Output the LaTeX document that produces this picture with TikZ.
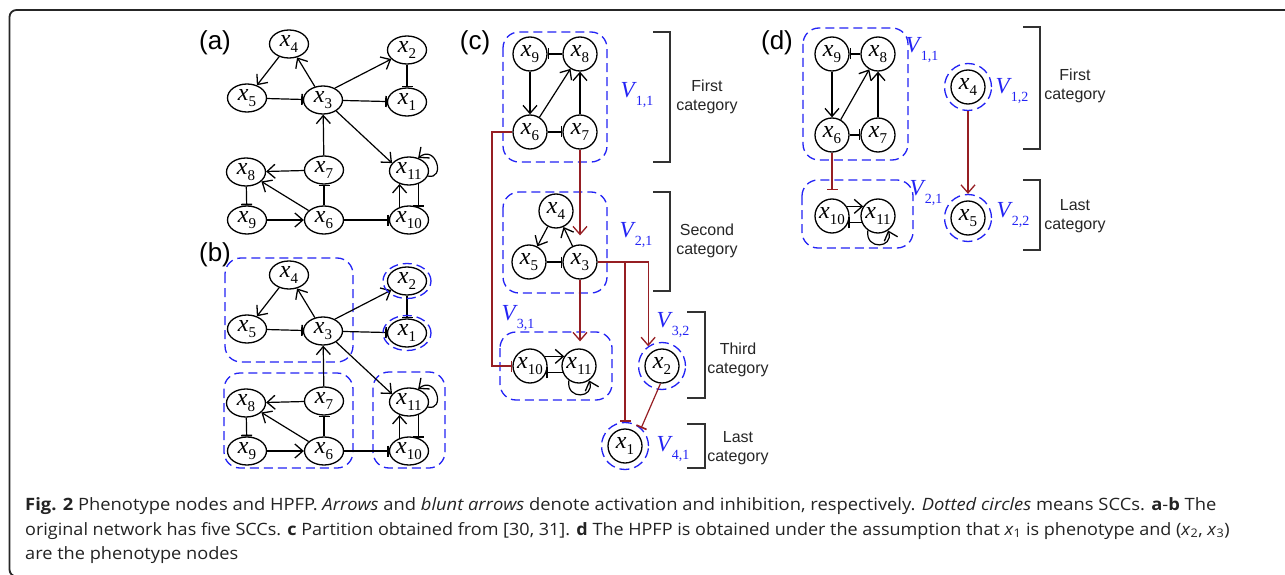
\documentclass[tikz,border=0pt]{standalone}
\usepackage{fontspec}
\usepackage{graphicx}
\setmainfont{Liberation Serif}
\newfontfamily\lsans{Liberation Sans}
\newfontfamily\capfont{Open Sans}
\usetikzlibrary{arrows.meta,shapes.geometric}
\definecolor{rd}{RGB}{150,30,35}
\definecolor{blu}{RGB}{35,35,245}
\definecolor{brkc}{RGB}{50,50,50}
\definecolor{capc}{RGB}{35,35,35}
\newcommand\xs[1]{\textit{x}\kern0.3pt\raisebox{-6pt}{\fontsize{15}{15}\selectfont #1}}
\newcommand\vl[1]{{\fontsize{23}{23}\selectfont\textit{V}\kern-1pt\raisebox{-8pt}{\fontsize{14}{14}\selectfont #1}}}
\newcommand\xc[1]{\textit{x}\textsubscript{#1}}
\tikzset{
  en/.style={ellipse, draw, line width=1.3pt, minimum width=39pt, minimum height=28pt, inner sep=0pt,
    font=\fontsize{24}{24}\selectfont, text height=11pt, text depth=6pt},
  cn/.style={circle, draw, line width=1.3pt, minimum size=34pt, inner sep=0pt,
    font=\fontsize{24}{24}\selectfont, text height=11pt, text depth=6pt},
  act/.style={-{Straight Barb[length=8pt,width=14pt,line width=1.3pt]}, line width=1.2pt},
  inh/.style={-{Bar[width=11pt,line width=1.7pt]}, line width=1.2pt},
  redact/.style={act, draw=rd},
  redinh/.style={inh, draw=rd},
  sccbox/.style={draw=blu, line width=1.3pt, dash pattern=on 9pt off 5pt, rounded corners=16pt},
  sccell/.style={ellipse, draw=blu, line width=1.3pt, dash pattern=on 9pt off 5pt, minimum width=48pt, minimum height=35pt, inner sep=0pt},
  scccirc/.style={circle, draw=blu, line width=1.3pt, dash pattern=on 10pt off 5pt, minimum size=47pt, inner sep=0pt},
  brk/.style={draw=brkc, line width=1.7pt},
  cat/.style={font=\lsans\fontsize{16}{19}\selectfont, align=center, text=black!85},
  plab/.style={font=\lsans\fontsize{26}{26}\selectfont},
  vlab/.style={text=blu, inner sep=0pt},
  capl/.style={anchor=base west, inner sep=0pt, font=\capfont\fontsize{17}{17}\selectfont, text=capc}
}
\newcommand\netAB[2]{%
\begin{scope}[shift={(0,#2)}]
  \node[en] (#1x4) at (289,44) {\xs{4}};
  \node[en] (#1x2) at (407,50) {\xs{2}};
  \node[en] (#1x5) at (247,98) {\xs{5}};
  \node[en] (#1x3) at (323,100) {\xs{3}};
  \node[en] (#1x1) at (407,102) {\xs{1}};
  \node[en] (#1x8) at (246,172) {\xs{8}};
  \node[en] (#1x7) at (324,170) {\xs{7}};
  \node[en] (#1x11) at (409,171) {\xs{11}};
  \node[en] (#1x9) at (247,220) {\xs{9}};
  \node[en] (#1x6) at (324,220) {\xs{6}};
  \node[en] (#1x10) at (409,220) {\xs{10}};
  \draw[act] (#1x3) -- (#1x4);
  \draw[act] (#1x4) -- (#1x5);
  \draw[inh] (#1x5) -- (#1x3);
  \draw[act] (#1x3.45) -- (#1x2.210);
  \draw[inh] (#1x2) -- (#1x1);
  \draw[inh] (#1x3) -- (#1x1);
  \draw[act] (#1x3.-40) -- (#1x11.155);
  \draw[act] (#1x7) -- (#1x3);
  \draw[act] (#1x7) -- (#1x8);
  \draw[act] (#1x6) -- (#1x8);
  \draw[inh] (#1x8) -- (#1x9);
  \draw[act] (#1x9) -- (#1x6);
  \draw[inh] (#1x6) -- (#1x7);
  \draw[inh] (#1x6) -- (#1x10);
  \draw[act] (#1x10.126) -- (#1x11.234);
  \draw[inh] (#1x11.-54) -- (#1x10.54);
  \draw[act] (#1x11.-15) .. controls +(18,4) and +(18,-14) .. (#1x11.55);
\end{scope}}
\begin{document}
\begin{tikzpicture}[x=1pt,y=-1pt]
\useasboundingbox (0,0) rectangle (1285,575);
\fill[white] (0,0) rectangle (1285,575);
\begin{scope}
  \clip (0,0) rectangle (1285,575);
  \draw[line width=1.8pt, draw=black!85, rounded corners=7pt] (1300,10) -- (9.5,10) -- (9.5,576.5) -- (1300,576.5);
\end{scope}

% panel labels
\node[plab] (la) at (215,43) {(a)};
\node[plab] (lb) at (215,255) {(b)};
\node[plab] (lc) at (475,43) {(c)};
\node[plab] (ld) at (777,43) {(d)};

% panels a and b
\netAB{a}{0}
% SCC boxes of (b)
\draw[sccbox] (225,258) rectangle (353,362);
\draw[sccbox] (224,373) rectangle (353,468);
\draw[sccbox] (373,372) rectangle (445,468);
\netAB{b}{231}
\node[sccell] (bx2d) at (bx2) {};
\node[sccell] (bx1d) at (bx1) {};

% ================= panel (c)
\draw[sccbox] (503,32) rectangle (607,162);
\draw[sccbox] (503,192) rectangle (607,293);
\draw[sccbox] (500,332) rectangle (612,400);
\node[cn] (c9) at (530,54) {\xs{9}};
\node[cn] (c8) at (580,54) {\xs{8}};
\node[cn] (c6) at (530,132) {\xs{6}};
\node[cn] (c7) at (580,132) {\xs{7}};
\node[cn] (c4) at (556,211) {\xs{4}};
\node[cn] (c5) at (529,262) {\xs{5}};
\node[cn] (c3) at (580,262) {\xs{3}};
\node[cn] (c10) at (530,366) {\xs{10}};
\node[cn] (c11) at (579,366) {\xs{11}};
\node[cn] (c2) at (662,366) {\xs{2}};
\node[scccirc] (c2d) at (c2) {};
\node[cn] (c1) at (625,446) {\xs{1}};
\node[scccirc] (c1d) at (c1) {};

\draw[inh] (c8) -- (c9);
\draw[act] (c9) -- (c6);
\draw[act] (c6) -- (c8);
\draw[act] (c7) -- (c8);
\draw[inh] (c6) -- (c7);
\draw[act] (c3) -- (c4);
\draw[act] (c4) -- (c5);
\draw[inh] (c5) -- (c3);
\draw[act] (c10.33) -- (c11.147);
\draw[inh] (c11.-157) -- (c10.-23);
\draw[act] (c11.235) .. controls +(-3,20) and +(6,18) .. (c11.-55);

\draw[redact, shorten >=9pt] (c7) -- (c3);
\draw[redact, shorten >=7pt] (c3.south) -- (c3.south |- c11.north);
\coordinate (cb) at (492,132);
\draw[redinh] (c6.west) -- (cb) |- (c10.west);
\draw[redact] (c3.east) -| (c2d.125);
\draw[redinh] (c3.east) -| (c1d.north);
\draw[redinh] (c2.-95) -- (c1d.48);

\node[vlab] (v11c) at (637,95) {\vl{1,1}};
\node[vlab] (v21c) at (636,235) {\vl{2,1}};
\node[vlab] (v31c) at (518,318) {\vl{3,1}};
\node[vlab] (v32c) at (673,325) {\vl{3,2}};
\node[vlab] (v41c) at (673,449) {\vl{4,1}};

\draw[brk] (653,32) -- (670,32) -- (670,162) -- (653,162);
\draw[brk] (653,192) -- (670,192) -- (670,291) -- (653,291);
\draw[brk] (687,312) -- (705,312) -- (705,398) -- (687,398);
\draw[brk] (687,424) -- (705,424) -- (705,468) -- (687,468);
\node[cat] (t1c) at (707,97) {First\\category};
\node[cat] (t2c) at (707,241) {Second\\category};
\node[cat] (t3c) at (738,360) {Third\\category};
\node[cat] (t4c) at (738,448) {Last\\category};

% ================= panel (d)
\draw[sccbox] (803,28) rectangle (908,160);
\draw[sccbox] (802,180) rectangle (913,248);
\node[cn] (d9) at (832,54) {\xs{9}};
\node[cn] (d8) at (878,54) {\xs{8}};
\node[cn] (d6) at (832,135) {\xs{6}};
\node[cn] (d7) at (878,135) {\xs{7}};
\node[cn] (d10) at (832,216) {\xs{10}};
\node[cn] (d11) at (878,216) {\xs{11}};
\node[cn] (d4) at (968,87) {\xs{4}};
\node[scccirc] (d4d) at (d4) {};
\node[cn] (d5) at (968,218) {\xs{5}};
\node[scccirc] (d5d) at (d5) {};

\draw[inh] (d8) -- (d9);
\draw[act] (d9) -- (d6);
\draw[act] (d6) -- (d8);
\draw[act] (d7) -- (d8);
\draw[inh] (d6) -- (d7);
\draw[act] (d10.33) -- (d11.147);
\draw[inh] (d11.-157) -- (d10.-23);
\draw[act] (d11.235) .. controls +(-3,20) and +(6,18) .. (d11.-55);
\draw[redinh, shorten >=8pt] (d6) -- (d10);
\draw[redact] (d4d) -- (d5d);

\node[vlab] (v11d) at (922,50) {\vl{1,1}};
\node[vlab] (v12d) at (1012,91) {\vl{1,2}};
\node[vlab] (v21d) at (926,193) {\vl{2,1}};
\node[vlab] (v22d) at (1013,215) {\vl{2,2}};

\draw[brk] (1023,27) -- (1040,27) -- (1040,149) -- (1023,149);
\draw[brk] (1023,180) -- (1040,180) -- (1040,250) -- (1023,250);
\node[cat] (t1d) at (1075,86) {First\\category};
\node[cat] (t2d) at (1075,216) {Last\\category};

% ================= caption
\node[capl] (cap1) at (25,510.5) {\scalebox{1.08}[1]{\textbf{Fig. 2} Phenotype nodes and HPFP. \textit{Arrows} and \textit{blunt arrows} denote activation and inhibition, respectively. \textit{Dotted circles} means SCCs. \textbf{a}-\textbf{b} The}};
\node[capl] (cap2) at (25,535) {\scalebox{1.06}[1]{original network has five SCCs. \textbf{c} Partition obtained from [30, 31]. \textbf{d} The HPFP is obtained under the assumption that \xc{1} is phenotype and (\xc{2}, \xc{3})}};
\node[capl] (cap3) at (25,559) {\scalebox{1.07}[1]{are the phenotype nodes}};
\end{tikzpicture}
\end{document}
